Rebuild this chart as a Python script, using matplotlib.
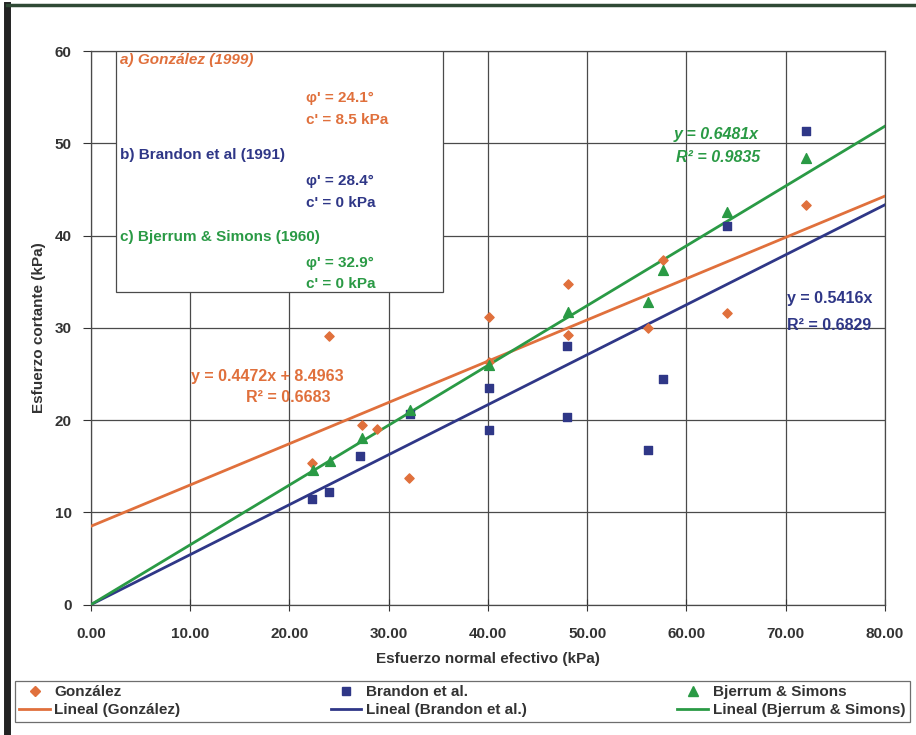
import numpy as np
import matplotlib
matplotlib.use("Agg")
import matplotlib.pyplot as plt
from matplotlib import font_manager
from matplotlib.lines import Line2D

# Narrow bold face if available, otherwise plain Liberation Sans
_names = {f.name for f in font_manager.fontManager.ttflist}
FONT = "Liberation Sans Narrow" if "Liberation Sans Narrow" in _names else "Liberation Sans"
plt.rcParams["font.family"] = [FONT, "DejaVu Sans"]
plt.rcParams["font.weight"] = "bold"
plt.rcParams["axes.labelweight"] = "bold"

# Shear tests: effective normal stress vs shear stress (kPa)
gonzalez_x = [22.3, 24.0, 27.3, 28.8, 32.0, 40.1, 40.1, 48.1, 48.1, 56.1, 57.6, 64.1, 72.1]
gonzalez_y = [15.3, 29.1, 19.5, 19.0, 13.7, 31.2, 26.3, 34.8, 29.2, 30.0, 37.4, 31.6, 43.3]

brandon_x = [22.3, 24.0, 27.1, 32.1, 40.1, 40.1, 48.0, 48.0, 56.1, 57.6, 64.1, 72.1]
brandon_y = [11.4, 12.2, 16.1, 20.7, 23.5, 18.9, 28.0, 20.3, 16.8, 24.4, 41.0, 51.3]

bjerrum_x = [22.4, 24.1, 27.3, 32.1, 40.1, 48.1, 56.1, 57.6, 64.1, 72.1]
bjerrum_y = [14.6, 15.6, 18.1, 21.1, 26.0, 31.7, 32.8, 36.3, 42.6, 48.4]

# Linear trend lines (slope, intercept) and R^2
gonzalez_fit = (0.4472, 8.4963, 0.6683)
brandon_fit = (0.5416, 0.0, 0.6829)
bjerrum_fit = (0.6481, 0.0, 0.9835)

x_ticks = [0, 10, 20, 30, 40, 50, 60, 70, 80]
y_ticks = [0, 10, 20, 30, 40, 50, 60]

C_ORANGE = "#E0703C"
C_NAVY = "#2F3787"
C_GREEN = "#2A9A45"
C_TEXT = "#333333"

fig = plt.figure(figsize=(9.16, 7.35), dpi=100)
ax = fig.add_axes([0.0993, 0.1774, 0.8667, 0.7532])

xx = np.array([0, 80])
for (m, b, _), col in [(gonzalez_fit, C_ORANGE), (brandon_fit, C_NAVY), (bjerrum_fit, C_GREEN)]:
    ax.plot(xx, m * xx + b, color=col, lw=2.0, zorder=3)

ax.scatter(gonzalez_x, gonzalez_y, marker="D", s=22, color=C_ORANGE, zorder=4)
ax.scatter(brandon_x, brandon_y, marker="s", s=40, color=C_NAVY, zorder=4)
ax.scatter(bjerrum_x, bjerrum_y, marker="^", s=50, color=C_GREEN, zorder=5)

ax.set_xlim(0, 80)
ax.set_ylim(0, 60)
ax.set_xticks(x_ticks)
ax.set_xticklabels([f"{v:.2f}" for v in x_ticks])
ax.set_yticks(y_ticks)
ax.grid(True, color="#4a4a4a", lw=0.9)
ax.set_axisbelow(True)
for s in ax.spines.values():
    s.set_color("#4a4a4a")
    s.set_linewidth(0.9)
ax.tick_params(axis="x", direction="inout", length=8, pad=12, labelsize=11, colors=C_TEXT)
ax.tick_params(axis="y", direction="out", length=6, pad=8, labelsize=11, colors=C_TEXT)

ax.set_xlabel("Esfuerzo normal efectivo (kPa)", fontsize=11, color=C_TEXT, labelpad=8)
ax.set_ylabel("Esfuerzo cortante (kPa)", fontsize=11, color=C_TEXT, labelpad=6)

# Trend line equations
m, b, r2 = gonzalez_fit
ax.text(17.8, 24.7, f"y = {m:.4f}x + {b:.4f}", color=C_ORANGE, fontsize=11.5, ha="center", va="center")
ax.text(19.9, 22.5, f"R² = {r2:.4f}", color=C_ORANGE, fontsize=11.5, ha="center", va="center")
m, b, r2 = brandon_fit
ax.text(70.1, 33.2, f"y = {m:.4f}x", color=C_NAVY, fontsize=11.5, ha="left", va="center")
ax.text(70.1, 30.3, f"R² = {r2:.4f}", color=C_NAVY, fontsize=11.5, ha="left", va="center")
m, b, r2 = bjerrum_fit
ax.text(63.0, 50.9, f"y = {m:.4f}x", color=C_GREEN, fontsize=11.5, ha="center", va="center", style="italic")
ax.text(63.2, 48.5, f"R² = {r2:.4f}", color=C_GREEN, fontsize=11.5, ha="center", va="center", style="italic")

# Strength parameter box
box = plt.Rectangle((2.52, 33.9), 33.0, 26.1, transform=ax.transData, fill=True,
                    facecolor="white", edgecolor="#4a4a4a", lw=0.9, zorder=6)
ax.add_patch(box)
titles = ["a) González (1999)", "b) Brandon et al (1991)", "c) Bjerrum & Simons (1960)"]
phis = ["24.1", "28.4", "32.9"]
cohesions = ["8.5", "0", "0"]
title_y = [59.0, 48.7, 39.8]
phi_y = [54.9, 45.9, 37.0]
c_y = [52.5, 43.5, 34.7]
box_colors = [C_ORANGE, C_NAVY, C_GREEN]
for i in range(3):
    col = box_colors[i]
    ax.text(2.9, title_y[i], titles[i], color=col, fontsize=11, ha="left", va="center",
            style="italic" if i == 0 else "normal", zorder=7)
    ax.text(21.7, phi_y[i], f"φ' = {phis[i]}°", color=col, fontsize=11, ha="left", va="center", zorder=7)
    ax.text(21.7, c_y[i], f"c' = {cohesions[i]} kPa", color=col, fontsize=11, ha="left", va="center", zorder=7)

handles = [
    Line2D([], [], marker="D", ls="none", color=C_ORANGE, ms=5),
    Line2D([], [], color=C_ORANGE, lw=2),
    Line2D([], [], marker="s", ls="none", color=C_NAVY, ms=6),
    Line2D([], [], color=C_NAVY, lw=2),
    Line2D([], [], marker="^", ls="none", color=C_GREEN, ms=7),
    Line2D([], [], color=C_GREEN, lw=2),
]
labels = ["González", "Lineal (González)", "Brandon et al.", "Lineal (Brandon et al.)",
          "Bjerrum & Simons", "Lineal (Bjerrum & Simons)"]
leg = fig.legend(handles, labels, ncol=3, loc="lower left", bbox_to_anchor=(0.016, 0.018, 0.977, 0.062),
                 mode="expand", fontsize=11, frameon=True, fancybox=False, edgecolor="#4a4a4a",
                 handlelength=2.0, handletextpad=0.3, borderaxespad=0, borderpad=0.3, labelspacing=0.25)
leg.get_frame().set_linewidth(0.9)
for t in leg.get_texts():
    t.set_color(C_TEXT)

# Outer frame of the chart area
fig.add_artist(Line2D([0.008, 0.008], [0.0, 0.993], transform=fig.transFigure, color="#222222", lw=5))
fig.add_artist(Line2D([0.008, 1.0], [0.993, 0.993], transform=fig.transFigure, color="#2F4A35", lw=2.5))

fig.savefig("out.png", dpi=100)
